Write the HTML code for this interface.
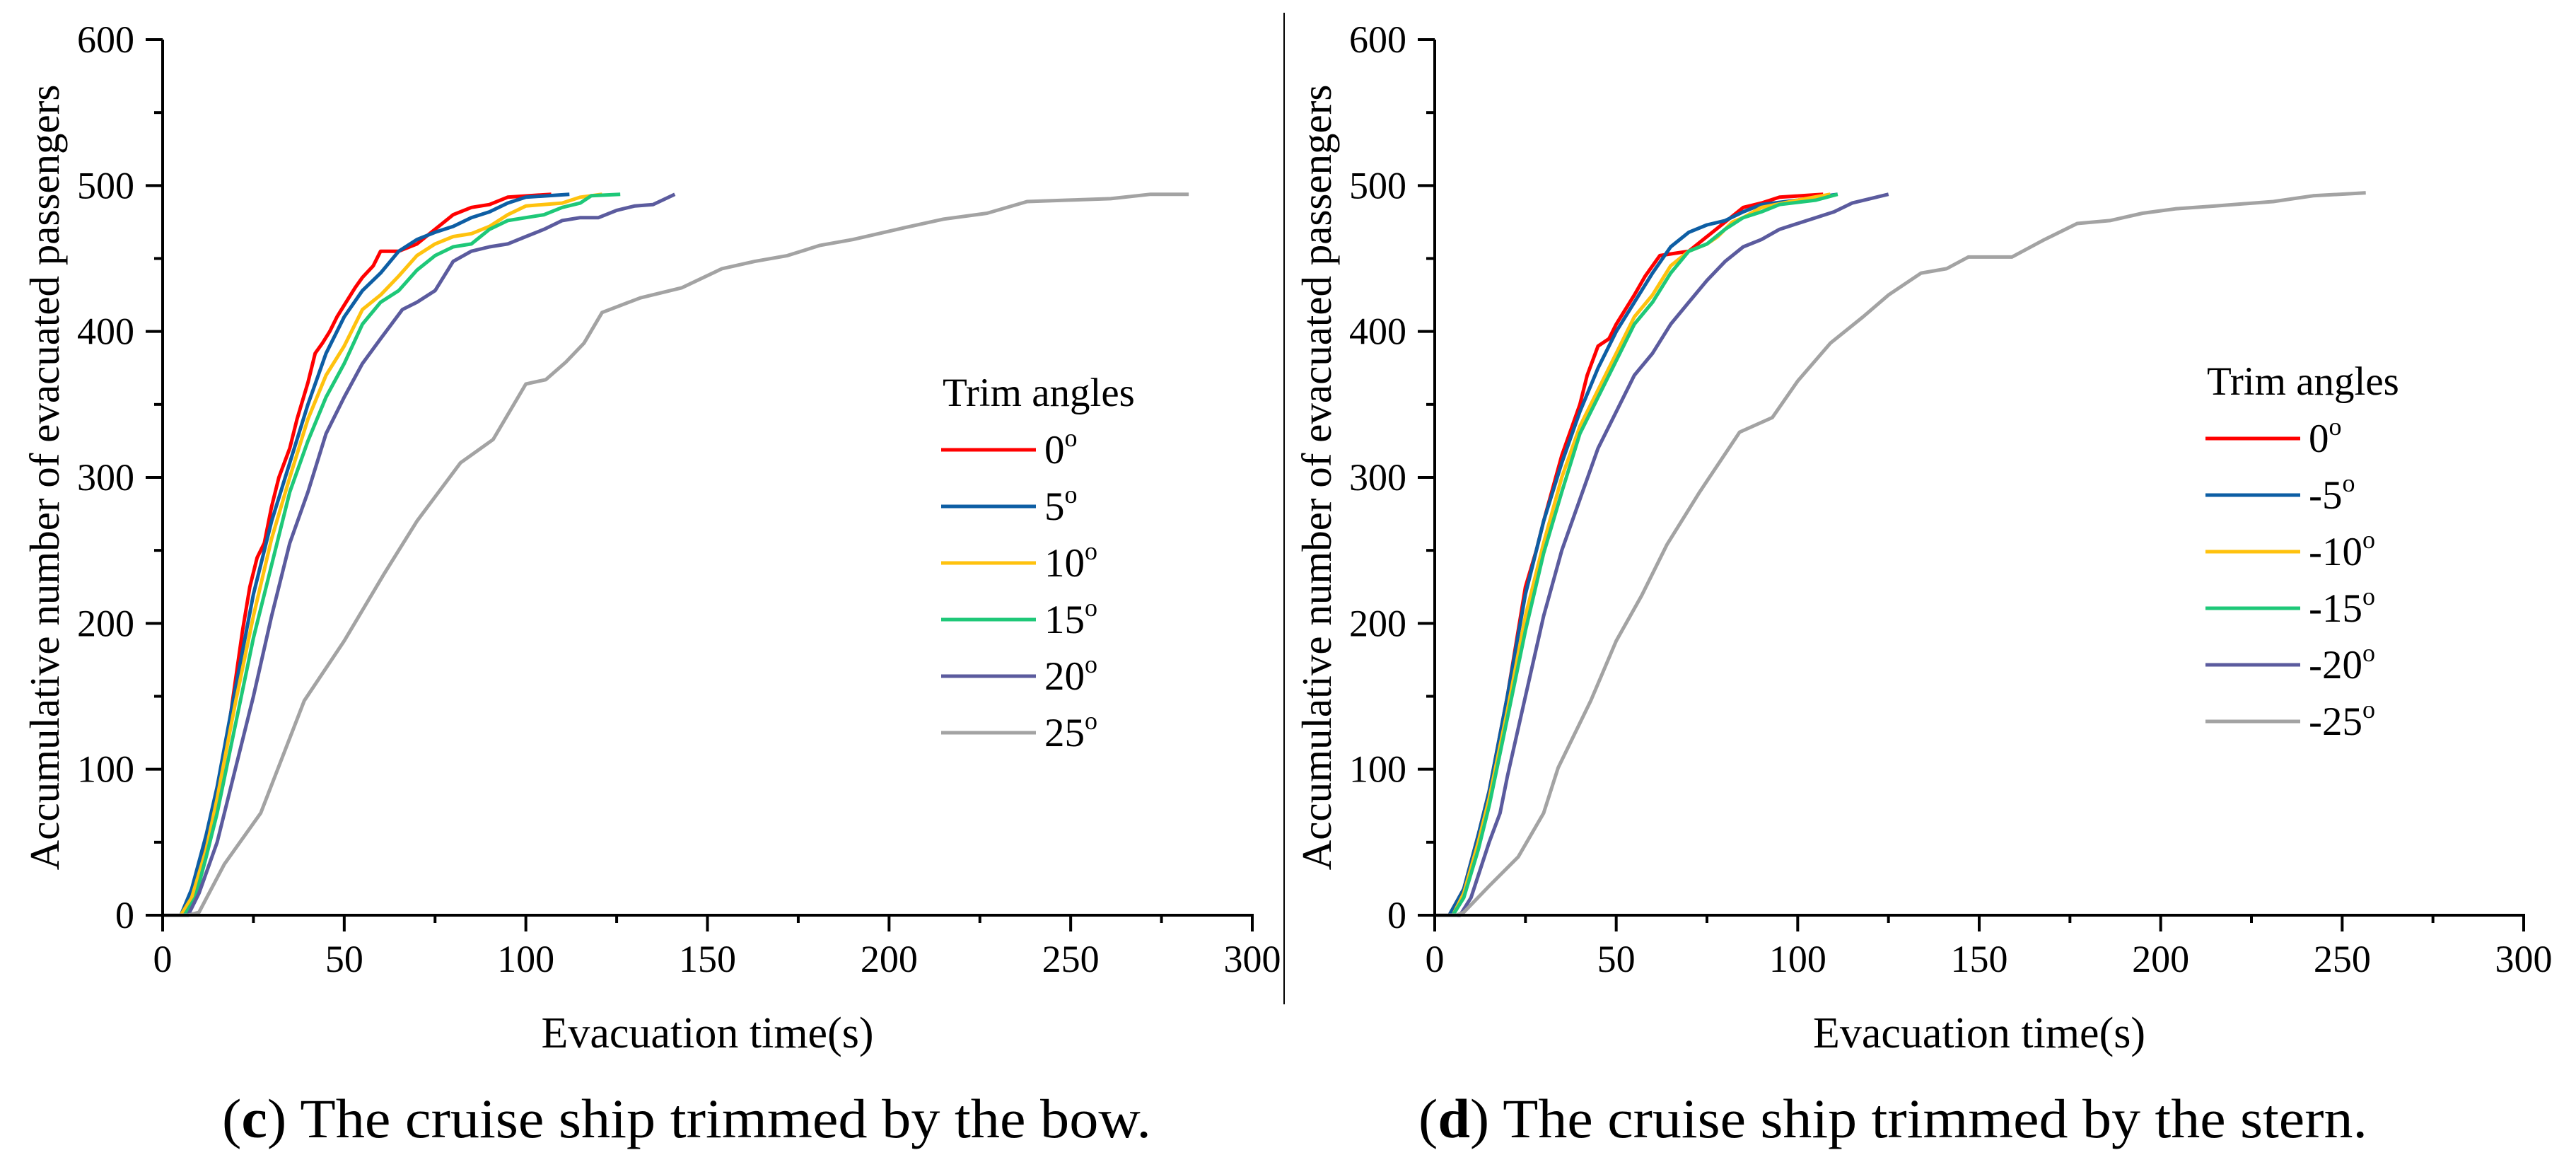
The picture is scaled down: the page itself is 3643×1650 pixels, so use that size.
<!DOCTYPE html>
<html><head><meta charset="utf-8">
<style>
html,body{margin:0;padding:0;background:#fff;}
svg{display:block;font-family:"Liberation Serif",serif;}
</style></head>
<body>
<svg id="fig" width="3643" height="1650" viewBox="0 0 3643 1650" xmlns="http://www.w3.org/2000/svg">
<line x1="1816" y1="18" x2="1816" y2="1420" stroke="#000" stroke-width="2"/>
<g id="panelC"></g>
<g id="panelD"></g>
<text x="971" y="1608" font-size="78" text-anchor="middle" textLength="1314" lengthAdjust="spacingAndGlyphs">(<tspan font-weight="bold">c</tspan>) The cruise ship trimmed by the bow.</text>
<text x="2677" y="1608" font-size="78" text-anchor="middle" textLength="1342" lengthAdjust="spacingAndGlyphs">(<tspan font-weight="bold">d</tspan>) The cruise ship trimmed by the stern.</text>
</svg>
<script>
// ---- data ----
const xTicks = [0, 50, 100, 150, 200, 250, 300];
const yTicks = [0, 100, 200, 300, 400, 500, 600];
const seriesColors = ["#ff0000", "#0d5ea4", "#ffc20e", "#1ec878", "#5b5b9e", "#a3a3a3"];
const labelsC = ["0", "5", "10", "15", "20", "25"];
const labelsD = ["0", "-5", "-10", "-15", "-20", "-25"];

const c0t = [5,8,12,15,18,20,22,24,26,28,30,32,35,37,40,42,44,46,48,50,53,55,58,60,65,70,75,80,85,90,95,107];
const c0v = [0,15,50,85,125,160,195,225,245,255,280,300,320,340,365,385,392,400,410,418,430,437,445,455,455,460,470,480,485,487,492,494];
const c5t = [5,8,12,15,20,25,30,35,40,45,50,55,60,65,70,75,80,85,90,95,100,112];
const c5v = [0,18,55,88,155,220,270,310,350,385,410,428,440,455,463,468,472,478,482,488,492,494];
const c10t = [5,8,12,15,20,25,30,35,40,45,50,55,60,65,70,75,80,85,90,95,100,110,115,121];
const c10v = [0,12,45,80,145,205,258,300,340,370,390,415,425,438,452,460,465,467,472,480,486,488,492,494];
const c15t = [6,9,12,15,20,25,30,35,40,45,50,55,60,65,70,75,80,85,90,95,100,105,110,115,118,126];
const c15v = [0,12,40,70,130,190,240,290,325,355,378,405,420,428,442,452,458,460,470,476,478,480,485,488,493,494];
const c20t = [7,10,15,20,25,30,35,40,45,50,55,60,63,66,70,75,80,85,90,95,100,105,110,115,120,125,130,135,141];
const c20v = [0,15,50,100,150,205,255,290,330,355,378,395,405,415,420,428,448,455,458,460,465,470,476,478,478,483,486,487,494];
const c25t = [7,10,17,27,39,50,61,70,82,91,100,105.5,111,116,121,131.5,143,154,163,172,181,190,204,215,227,238,249,261,272,282.5];
const c25v = [0,2,35,70,147,188,234,270,310,326,364,367,379,392,413,423,430,443,448,452,459,463,471,477,481,489,490,491,494,494];

const d0t = [4,8,12,15,20,25,28,30,35,40,42,45,48,50,55,58,62,70,75,80,85,90,95,107];
const d0v = [0,18,55,85,150,225,250,270,315,350,370,390,395,405,425,438,452,455,465,475,485,488,492,494];
const d5t = [4,8,12,15,20,25,30,35,40,45,50,55,60,65,70,75,80,85,90,100,111];
const d5v = [0,18,55,85,150,220,270,310,345,375,400,420,440,458,468,473,476,482,487,490,494];
const d10t = [5,8,12,15,20,25,30,35,40,45,50,55,60,65,70,75,78,82,85,90,100,109];
const d10v = [0,15,50,80,140,205,255,300,335,360,385,410,425,445,455,460,465,475,478,485,490,494];
const d15t = [5,8,12,15,20,25,30,35,40,45,50,55,60,65,70,75,80,85,90,95,105,111];
const d15v = [0,12,45,75,135,195,248,290,330,355,380,405,420,440,455,460,470,478,482,487,490,494];
const d20t = [7,10,15,18,20,25,30,35,40,45,50,55,60,65,70,75,80,85,90,95,100,105,110,115,125];
const d20v = [0,12,50,70,95,150,205,250,285,320,345,370,385,405,420,435,448,458,463,470,474,478,482,488,494];
const d25t = [6,8,15,23,30,34,43,50,57,64,73,84,93,100,109,118,125,134,141,147,159,168,177,186,195,204,215,231,242,256.5];
const d25v = [0,2,20,40,70,101,147,188,219,254,290,331,341,366,392,410,425,440,443,451,451,463,474,476,481,484,486,489,493,495];

const seriesC = [[c0t,c0v],[c5t,c5v],[c10t,c10v],[c15t,c15v],[c20t,c20v],[c25t,c25v]];
const seriesD = [[d0t,d0v],[d5t,d5v],[d10t,d10v],[d15t,d15v],[d20t,d20v],[d25t,d25v]];

const NS = "http://www.w3.org/2000/svg";
function mk(tag, attrs, parent) {
  const e = document.createElementNS(NS, tag);
  for (const k in attrs) e.setAttribute(k, attrs[k]);
  parent.appendChild(e);
  return e;
}

function drawPanel(g, x0, x1, legX, legY, labels, series, tag) {
  const y0 = 1294, y1 = 56;
  const sx = v => x0 + (x1 - x0) * v / 300;
  const sy = v => y0 - (y0 - y1) * v / 600;
  series.forEach((s, i) => {
    const pts = s[0].map((t, j) => sx(t).toFixed(1) + "," + sy(s[1][j]).toFixed(1));
    const pre = sx(0).toFixed(1) + "," + sy(0).toFixed(1) + " ";
    const pl = mk("polyline", {points: pre + pts.join(" "), fill: "none", stroke: seriesColors[i], "stroke-width": 5, "stroke-linejoin": "round"}, g);
    
    
  });
  const ax = mk("line", {x1: x0, y1: y0, x2: x1 + 2, y2: y0, stroke: "#000", "stroke-width": 4}, g);
  
  
  const ay = mk("line", {x1: x0, y1: y0 + 2, x2: x0, y2: y1, stroke: "#000", "stroke-width": 4}, g);
  
  
  for (let v = 0; v <= 300; v += 25) {
    const major = v % 50 === 0;
    const t = mk("line", {x1: sx(v), y1: y0, x2: sx(v), y2: y0 + (major ? 23 : 11), stroke: "#000", "stroke-width": 4}, g);
    
    
  }
  xTicks.forEach(v => {
    const t = mk("text", {x: sx(v), y: 1374, "font-size": 54, "text-anchor": "middle"}, g);
    t.textContent = v;
    
    
  });
  for (let v = 0; v <= 600; v += 50) {
    const major = v % 100 === 0;
    const t = mk("line", {x1: x0 - (major ? 24 : 12), y1: sy(v), x2: x0, y2: sy(v), stroke: "#000", "stroke-width": 4}, g);
    
    
  }
  yTicks.forEach(v => {
    const t = mk("text", {x: x0 - 40, y: sy(v) + 18, "font-size": 54, "text-anchor": "end"}, g);
    t.textContent = v;
    
    
  });
  const xt = mk("text", {x: (x0 + x1) / 2, y: 1481, "font-size": 62, "text-anchor": "middle"}, g);
  xt.textContent = "Evacuation time(s)";
  
  
  const yt = mk("text", {x: 0, y: 0, "font-size": 59, "text-anchor": "middle", transform: "translate(" + (x0 - 147) + ",675) rotate(-90)"}, g);
  yt.textContent = "Accumulative number of evacuated passengers";
  
  
  const lt = mk("text", {x: legX + 2, y: legY - 62, "font-size": 57}, g);
  lt.textContent = "Trim angles";
  
  
  labels.forEach((lab, i) => {
    const yy = legY + i * 80;
    const ln = mk("line", {x1: legX, y1: yy, x2: legX + 134, y2: yy, stroke: seriesColors[i], "stroke-width": 5}, g);
    
    
    const tx = mk("text", {x: legX + 146, y: yy + 19, "font-size": 57}, g);
    
    
    tx.appendChild(document.createTextNode(lab));
    const sup = mk("tspan", {"font-size": 36, dy: -24}, tx);
    sup.textContent = "o";
  });
}
drawPanel(document.getElementById("panelC"), 230, 1771, 1331, 636, labelsC, seriesC, "c");
drawPanel(document.getElementById("panelD"), 2029, 3569, 3119, 620, labelsD, seriesD, "d");
</script>
</body></html>
